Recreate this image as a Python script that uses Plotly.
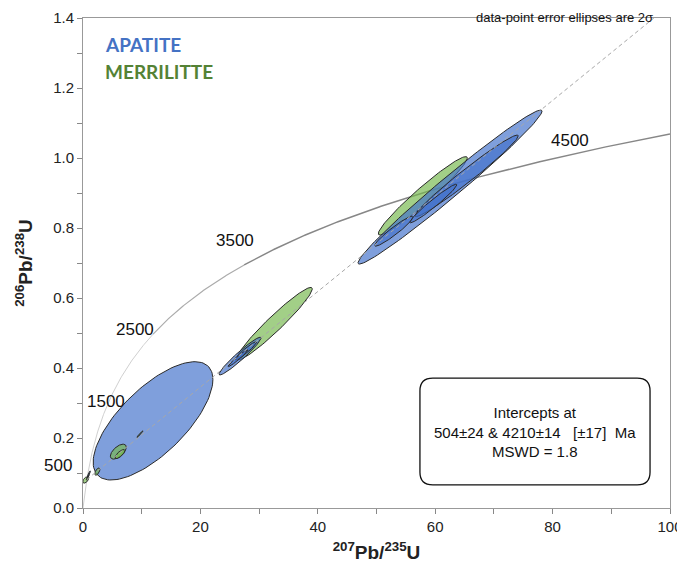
import numpy as np
import plotly.graph_objects as go

# ---- data ----
LAMBDA_238 = 1.55125e-10
LAMBDA_235 = 9.8485e-10
lower_intercept_ma = 504
upper_intercept_ma = 4210
concordia_label_ages = [500, 1500, 2500, 3500, 4500]
concordia_label_x = [-4.3, 3.9, 8.9, 25.9, 83.0]
concordia_label_y = [0.121, 0.303, 0.511, 0.763, 1.051]

# apatite ellipses (2-sigma half extents)
ap_cx  = [11.93, 62.52, 65.35, 52.98, 59.68, 26.75, 27.73, 26.4, 1.0]
ap_cy  = [0.249, 0.917, 0.949, 0.791, 0.870, 0.434, 0.449, 0.428, 0.097]
ap_ex  = [10.2, 15.67, 8.8, 3.3, 4.0, 3.58, 1.84, 1.7, 0.25]
ap_ey  = [0.169, 0.220, 0.1166, 0.043, 0.055, 0.054, 0.026, 0.024, 0.009]
ap_rho = [0.70, 0.985, 0.98, 0.95, 0.97, 0.96, 0.95, 0.97, 0.9]

# merrillite ellipses
me_cx  = [0.45, 0.8, 2.44, 6.02, 6.3, 9.7, 32.62, 57.89]
me_cy  = [0.080, 0.088, 0.104, 0.161, 0.154, 0.211, 0.5266, 0.892]
me_ex  = [0.5, 0.25, 0.43, 1.36, 0.85, 0.51, 6.44, 7.58]
me_ey  = [0.009, 0.008, 0.0105, 0.0214, 0.013, 0.0095, 0.1037, 0.112]
me_rho = [0.5, 0.9, 0.6, 0.6, 0.75, 0.97, 0.96, 0.965]

# concordia line shading bands (age boundaries in Ma, colour, width)
conc_band_edges_ma = [0, 2600, 3400, 4700]
conc_band_colors = ["#d0d0d0", "#ababab", "#878787"]
conc_band_widths = [1.0, 1.2, 1.5]

x_ticks = [0, 20, 40, 60, 80, 100]
y_ticks = [0.0, 0.2, 0.4, 0.6, 0.8, 1.0, 1.2, 1.4]

FONT = "Liberation Sans, Arial, sans-serif"


def ellipse(cx, cy, ex, ey, rho, n=120):
    th = np.linspace(0, 2 * np.pi, n)
    x = cx + ex * np.cos(th)
    y = cy + ey * (rho * np.cos(th) + np.sqrt(1 - rho ** 2) * np.sin(th))
    return x, y


fig = go.Figure()

# concordia curve
t_max = np.log(101) / LAMBDA_235
for i in range(len(conc_band_colors)):
    t0 = conc_band_edges_ma[i] * 1e6
    t1 = min(conc_band_edges_ma[i + 1] * 1e6, t_max)
    ages = np.linspace(t0, t1, 200)
    fig.add_trace(go.Scatter(x=np.exp(LAMBDA_235 * ages) - 1,
                             y=np.exp(LAMBDA_238 * ages) - 1, mode="lines",
                             line=dict(color=conc_band_colors[i], width=conc_band_widths[i]),
                             hoverinfo="skip", showlegend=False))

BLUE_FILL = "rgba(66,114,204,0.68)"
GREEN_FILL = "rgba(118,184,78,0.68)"
EDGE = "#2a2a2a"

def add_ell(cx, cy, ex, ey, rho, fill):
    x, y = ellipse(cx, cy, ex, ey, rho)
    fig.add_trace(go.Scatter(x=x, y=y, mode="lines", fill="toself",
                             fillcolor=fill, line=dict(color=EDGE, width=1),
                             hoverinfo="skip", showlegend=False))

# big apatite first
add_ell(ap_cx[0], ap_cy[0], ap_ex[0], ap_ey[0], ap_rho[0], BLUE_FILL)
# merrillite
for i in range(len(me_cx)):
    add_ell(me_cx[i], me_cy[i], me_ex[i], me_ey[i], me_rho[i], GREEN_FILL)
# rest of apatite
for i in range(1, len(ap_cx)):
    add_ell(ap_cx[i], ap_cy[i], ap_ex[i], ap_ey[i], ap_rho[i], BLUE_FILL)

# discordia
x0 = np.exp(LAMBDA_235 * lower_intercept_ma * 1e6) - 1
y0 = np.exp(LAMBDA_238 * lower_intercept_ma * 1e6) - 1
x1 = np.exp(LAMBDA_235 * upper_intercept_ma * 1e6) - 1
y1 = np.exp(LAMBDA_238 * upper_intercept_ma * 1e6) - 1
slope = (y1 - y0) / (x1 - x0)
x_top = x0 + (1.4 - y0) / slope
fig.add_trace(go.Scatter(x=[x0, x_top], y=[y0, 1.4], mode="lines",
                         line=dict(color="#a8a8a8", width=1, dash="4px,3px"),
                         hoverinfo="skip", showlegend=False))

# concordia age labels (x given in data units; converted to paper so labels
# left of the axis are still drawn)
for a, lx, ly in zip(concordia_label_ages, concordia_label_x, concordia_label_y):
    fig.add_annotation(x=lx / 100.0, xref="paper", y=ly, yref="y", text=str(a),
                       showarrow=False, xanchor="center", yanchor="middle",
                       font=dict(family=FONT, size=17, color="#111"))

# legend texts
fig.add_annotation(x=0.034, y=0.945, xref="paper", yref="paper", text="<b>APATITE</b>",
                   showarrow=False, xanchor="left", yanchor="middle",
                   font=dict(family="Lato, Open Sans, sans-serif", size=19, color="#4472C4"))
fig.add_annotation(x=0.034, y=0.89, xref="paper", yref="paper", text="<b>MERRILITTE</b>",
                   showarrow=False, xanchor="left", yanchor="middle",
                   font=dict(family="Lato, Open Sans, sans-serif", size=19, color="#548235"))

# top note
fig.add_annotation(x=0.975, y=1.0205, xref="paper", yref="paper",
                   text="data-point error ellipses are 2σ", showarrow=False,
                   xanchor="right", yanchor="top",
                   font=dict(family=FONT, size=13, color="#111"))

# intercept box (rounded rectangle)
bx0, bx1, by0, by1 = 57.4, 96.6, 0.066, 0.371
rx, ry = 2.2, 0.036
path = (f"M {bx0+rx},{by0} L {bx1-rx},{by0} Q {bx1},{by0} {bx1},{by0+ry} "
        f"L {bx1},{by1-ry} Q {bx1},{by1} {bx1-rx},{by1} L {bx0+rx},{by1} "
        f"Q {bx0},{by1} {bx0},{by1-ry} L {bx0},{by0+ry} Q {bx0},{by0} {bx0+rx},{by0} Z")
fig.add_shape(type="path", path=path, line=dict(color="#111", width=1.3),
              fillcolor="white", layer="above")
nb = "\u00a0"
fig.add_annotation(x=(bx0 + bx1) / 2, y=(by0 + by1) / 2,
                   text=f"Intercepts at<br>504±24 & 4210±14{nb*3}[±17]{nb*2}Ma<br>MSWD = 1.8",
                   showarrow=False, align="center", xanchor="center", yanchor="middle",
                   font=dict(family=FONT, size=15, color="#111"))

fig.update_layout(
    width=677, height=563,
    margin=dict(l=75, r=15, t=10, b=63, autoexpand=False),
    paper_bgcolor="white", plot_bgcolor="white",
    showlegend=False,
    xaxis=dict(range=[0, 100], tickvals=x_ticks, ticks="outside", ticklen=5,
               tickcolor="#888", showline=True, linecolor="#999", mirror=True,
               showgrid=False, zeroline=False, automargin=False,
               minor=dict(dtick=10, ticks="outside", ticklen=5, tickcolor="#888"),
               tickfont=dict(family=FONT, size=15, color="#222"),
               title=dict(text="<b><sup>207</sup>Pb/<sup>235</sup>U</b>",
                          font=dict(family=FONT, size=19, color="#222"), standoff=11)),
    yaxis=dict(range=[0, 1.4], tickvals=y_ticks, tickformat=".1f", ticks="outside",
               ticklen=5, tickcolor="#888", showline=True, linecolor="#999",
               mirror=True, showgrid=False, zeroline=False, automargin=False,
               minor=dict(dtick=0.1, ticks="outside", ticklen=5, tickcolor="#888"),
               tickfont=dict(family=FONT, size=15, color="#222"),
               title=dict(text="<b><sup>206</sup>Pb/<sup>238</sup>U</b>",
                          font=dict(family=FONT, size=19, color="#222"), standoff=15)),
)

fig.write_html("out.html")
